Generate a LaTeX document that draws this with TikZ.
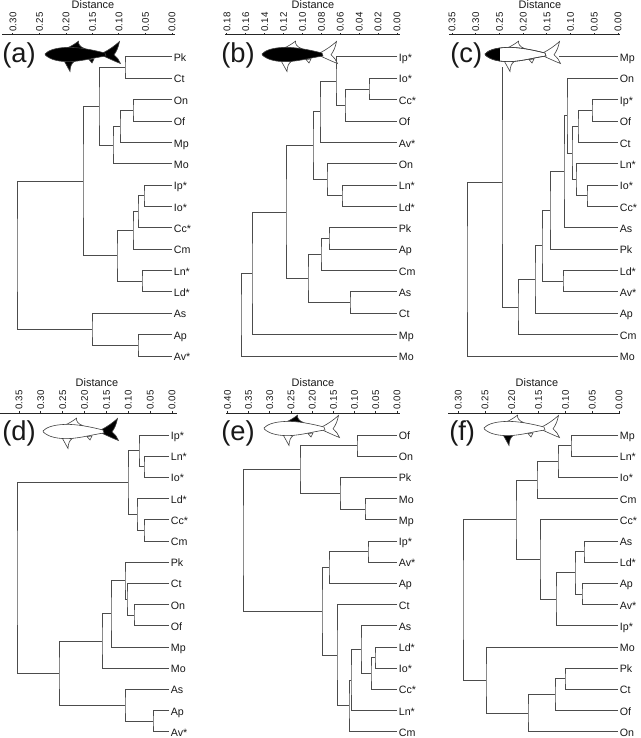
\documentclass[tikz,border=0pt]{standalone}
\usepackage{fontspec}
\setmainfont{Liberation Sans}
\usetikzlibrary{calc}
\tikzset{
  br/.style={draw=black!70, line width=0.75pt},
  axl/.style={draw=black!85, line width=0.75pt},
  leaf/.style={anchor=west, inner sep=1.2pt, font=\fontsize{8}{9}\selectfont, text=black!90, text height=1.6ex, text depth=0.3ex},
  ticklab/.style={anchor=west, rotate=90, inner sep=0.8pt, font=\fontsize{7.3}{8}\selectfont, text=black!90},
  distlab/.style={font=\fontsize{8.2}{9}\selectfont, text=black!90},
  panellab/.style={anchor=west, inner sep=0pt, font=\fontsize{20.5}{22}\selectfont, text=black!90},
  sharkline/.style={draw=black!75, line width=0.45pt},
}
% join two children at distance-x #2
\newcommand\jn[4]{%
  \coordinate (#1m) at ($(#3)!0.5!(#4)$);
  \coordinate (#1) at (#2,0 |- #1m);
  \draw[br] (#3) -| (#1) |- (#4);
}
% leaves: prefix, x, y0, step, list
\newcommand\leaves[5]{%
  \foreach \n/\t [count=\i] in {#5} \node[leaf] (#1\n) at (#2,{#3+#4*(\i-1)}) {\t};
}
% axis: prefix, x0, scale, list, x1, x2, yoff, distx
\newcommand\distaxis[8]{%
  \draw[axl] (#5,{35+#7}) -- (#6,{35+#7});
  \foreach \s [count=\k] in {#4} {
    \draw[axl] ({#2-#3*\s},{35+#7}) -- ({#2-#3*\s},{33.3+#7});
    \node[ticklab] (#1t\k) at ({#2-#3*\s},{32.8+#7}) {\s};
  }
  \node[distlab] (#1dist) at (#8,{5+#7}) {Distance};
}
\def\sharkbodypath{(0,0) .. controls (3,-3.5) and (10,-6.2) .. (22,-6.6) .. controls (34,-7) and (48,-4) .. (60,-1) -- (61,2) .. controls (50,3.5) and (38,7) .. (26,7.6) .. controls (14,8) and (6,5.5) .. (2,2.5) .. controls (0.8,1.6) and (0,0.8) .. (0,0) -- cycle}
% shark: x, y, body, dorsal, pectoral, tail, small fins
\newcommand\shark[7]{%
  \begin{scope}[shift={(#1,#2)}]
    \path[sharkline, fill=#4] (22,-6) .. controls (27,-8) and (31,-11) .. (33.5,-12.8) .. controls (33,-10) and (35,-7) .. (40,-5.2) -- cycle;
    \path[sharkline, fill=#6] (58,-1.2) .. controls (64,-4) and (70,-8.5) .. (74.5,-12.5) .. controls (73.5,-7) and (71.5,-2.5) .. (69,0.8) .. controls (72,3) and (74,6) .. (75.5,9.5) .. controls (70,7.5) and (64,4.5) .. (59,2.3) -- cycle;
    \path[sharkline, fill=#5] (19,6.8) .. controls (21,10) and (23,14) .. (25,17.5) .. controls (25.2,13.5) and (26,9.5) .. (29.5,7.2) -- cycle;
    \path[sharkline, fill=#7] (44,5.5) -- (47,9) -- (49,5) -- cycle;
    \path[sharkline, fill=#3] \sharkbodypath;
  \end{scope}
}
\begin{document}
\begin{tikzpicture}[x=0.75pt, y=-0.75pt]
\useasboundingbox (0,0) rectangle (640,738);
\fill[white] (0,0) rectangle (640,738);

%%%%%%%%%%%%%%%% (a)
\distaxis{a}{172}{530}{0.30,0.25,0.20,0.15,0.10,0.05,0.00}{2}{175}{0}{93}
\leaves{a}{172}{57}{21.357}{Pk/Pk,Ct/Ct,On/On,Of/Of,Mp/Mp,Mo/Mo,Ip/Ip*,Io/Io*,Cc/Cc*,Cm/Cm,Ln/Ln*,Ld/Ld*,As/As,Ap/Ap,Av/Av*}
\jn{aPC}{125}{aPk}{aCt}
\jn{aOO}{133}{aOn}{aOf}
\jn{aOOM}{120}{aOO}{aMp}
\jn{aOOMM}{113}{aOOM}{aMo}
\jn{aU}{99}{aPC}{aOOMM}
\jn{aII}{144}{aIp}{aIo}
\jn{aIIC}{138}{aII}{aCc}
\jn{aIICC}{133}{aIIC}{aCm}
\jn{aLL}{142}{aLn}{aLd}
\jn{aM}{117}{aIICC}{aLL}
\jn{aUM}{83}{aU}{aM}
\jn{aAA}{138}{aAp}{aAv}
\jn{aAAA}{92}{aAs}{aAA}
\jn{aR}{17}{aUM}{aAAA}
\node[panellab] (labA) at (2,55) {(a)};
\shark{45}{54}{black}{black}{black}{black}{black}

%%%%%%%%%%%%%%%% (b)
\distaxis{b}{397}{945}{0.18,0.16,0.14,0.12,0.10,0.08,0.06,0.04,0.02,0.00}{225}{400}{0}{313}
\leaves{b}{397}{57}{21.357}{Ip/Ip*,Io/Io*,Cc/Cc*,Of/Of,Av/Av*,On/On,Ln/Ln*,Ld/Ld*,Pk/Pk,Ap/Ap,Cm/Cm,As/As,Ct/Ct,Mp/Mp,Mo/Mo}
\jn{bIC}{369}{bIo}{bCc}
\jn{bICO}{345}{bIC}{bOf}
\jn{bI}{336}{bIp}{bICO}
\jn{bIA}{320}{bI}{bAv}
\jn{bLL}{342}{bLn}{bLd}
\jn{bOL}{327}{bOn}{bLL}
\jn{bU}{313}{bIA}{bOL}
\jn{bPA}{329}{bPk}{bAp}
\jn{bPAC}{321}{bPA}{bCm}
\jn{bAC}{350}{bAs}{bCt}
\jn{bL}{308}{bPAC}{bAC}
\jn{bUL}{286}{bU}{bL}
\jn{bM}{252}{bUL}{bMp}
\jn{bR}{241}{bM}{bMo}
\node[panellab] (labB) at (221,55) {(b)};
\shark{262}{54}{black}{white}{white}{white}{white}

%%%%%%%%%%%%%%%% (c)
\distaxis{c}{618}{474}{0.35,0.30,0.25,0.20,0.15,0.10,0.05,0.00}{449}{620}{0}{540}
\leaves{c}{618}{57}{21.357}{Mp/Mp,On/On,Ip/Ip*,Of/Of,Ct/Ct,Ln/Ln*,Io/Io*,Cc/Cc*,As/As,Pk/Pk,Ld/Ld*,Av/Av*,Ap/Ap,Cm/Cm,Mo/Mo}
\jn{cIO}{592}{cIp}{cOf}
\jn{cIOC}{578}{cIO}{cCt}
\jn{cIC}{587}{cIo}{cCc}
\jn{cLIC}{576}{cLn}{cIC}
\jn{cX}{572}{cIOC}{cLIC}
\jn{cOX}{567}{cOn}{cX}
\jn{cOXA}{564}{cOX}{cAs}
\jn{cP}{550}{cOXA}{cPk}
\jn{cLA}{563}{cLd}{cAv}
\jn{cPL}{542}{cP}{cLA}
\jn{cPLA}{535}{cPL}{cAp}
\jn{cPLAC}{518}{cPLA}{cCm}
\jn{cM}{502}{cMp}{cPLAC}
\jn{cR}{467}{cM}{cMo}
\node[panellab] (labC) at (450,55) {(c)};
\fill[white] (484,41) rectangle (559,67.5);
\shark{485}{54}{white}{white}{white}{white}{white}
\begin{scope}[shift={(485,54)}]
  \begin{scope}
    \clip \sharkbodypath;
    \fill[black] (-2,-9) rectangle (15,10);
  \end{scope}
  \path[sharkline] \sharkbodypath;
\end{scope}

%%%%%%%%%%%%%%%% (d)
\distaxis{d}{172}{437}{0.35,0.30,0.25,0.20,0.15,0.10,0.05,0.00}{0}{177}{378}{97}
\leaves{d}{169}{435}{21.2}{Ip/Ip*,Ln/Ln*,Io/Io*,Ld/Ld*,Cc/Cc*,Cm/Cm,Pk/Pk,Ct/Ct,On/On,Of/Of,Mp/Mp,Mo/Mo,As/As,Ap/Ap,Av/Av*}
\jn{dLI}{144}{dLn}{dIo}
\jn{dI}{139}{dIp}{dLI}
\jn{dCC}{144}{dCc}{dCm}
\jn{dL}{137}{dLd}{dCC}
\jn{dU}{128}{dI}{dL}
\jn{dOO}{134}{dOn}{dOf}
\jn{dCO}{127}{dCt}{dOO}
\jn{dPC}{125}{dPk}{dCO}
\jn{dPM}{111}{dPC}{dMp}
\jn{dPMM}{102}{dPM}{dMo}
\jn{dAA}{153}{dAp}{dAv}
\jn{dAAA}{125}{dAs}{dAA}
\jn{dLow}{59}{dPMM}{dAAA}
\jn{dR}{17}{dU}{dLow}
\node[panellab] (labD) at (2,433) {(d)};
\shark{43}{431}{white}{white}{white}{black}{white}

%%%%%%%%%%%%%%%% (e)
\distaxis{e}{397}{424}{0.40,0.35,0.30,0.25,0.20,0.15,0.10,0.05,0.00}{226}{400}{378}{313}
\leaves{e}{397}{435}{21.2}{Of/Of,On/On,Pk/Pk,Mo/Mo,Mp/Mp,Ip/Ip*,Av/Av*,Ap/Ap,Ct/Ct,As/As,Ld/Ld*,Io/Io*,Cc/Cc*,Ln/Ln*,Cm/Cm}
\jn{eOO}{357}{eOf}{eOn}
\jn{eMM}{365}{eMo}{eMp}
\jn{ePM}{340}{ePk}{eMM}
\jn{eU}{300}{eOO}{ePM}
\jn{eIA}{368}{eIp}{eAv}
\jn{eIAA}{329}{eIA}{eAp}
\jn{eLI}{375}{eLd}{eIo}
\jn{eLIC}{371}{eLI}{eCc}
\jn{eAL}{361}{eAs}{eLIC}
\jn{eALn}{351}{eAL}{eLn}
\jn{eALC}{349}{eALn}{eCm}
\jn{eCX}{337}{eCt}{eALC}
\jn{eLow}{322}{eIAA}{eCX}
\jn{eR}{243}{eU}{eLow}
\node[panellab] (labE) at (221,433) {(e)};
\shark{264}{428}{white}{black}{white}{white}{white}

%%%%%%%%%%%%%%%% (f)
\distaxis{f}{619}{536}{0.30,0.25,0.20,0.15,0.10,0.05,0.00}{448}{620}{378}{537}
\leaves{f}{618}{435}{21.2}{Mp/Mp,Ln/Ln*,Io/Io*,Cm/Cm,Cc/Cc*,As/As,Ld/Ld*,Ap/Ap,Av/Av*,Ip/Ip*,Mo/Mo,Pk/Pk,Ct/Ct,Of/Of,On/On}
\jn{fML}{571}{fMp}{fLn}
\jn{fMLI}{558}{fML}{fIo}
\jn{fMLIC}{537}{fMLI}{fCm}
\jn{fAL}{584}{fAs}{fLd}
\jn{fAA}{582}{fAp}{fAv}
\jn{fAX}{575}{fAL}{fAA}
\jn{fAI}{556}{fAX}{fIp}
\jn{fCA}{540}{fCc}{fAI}
\jn{fU}{516}{fMLIC}{fCA}
\jn{fPC}{565}{fPk}{fCt}
\jn{fPCO}{555}{fPC}{fOf}
\jn{fPCOO}{528}{fPCO}{fOn}
\jn{fLow}{486}{fMo}{fPCOO}
\jn{fR}{463}{fU}{fLow}
\node[panellab] (labF) at (449,433) {(f)};
\shark{484}{428}{white}{white}{black}{white}{white}
\end{tikzpicture}
\end{document}
